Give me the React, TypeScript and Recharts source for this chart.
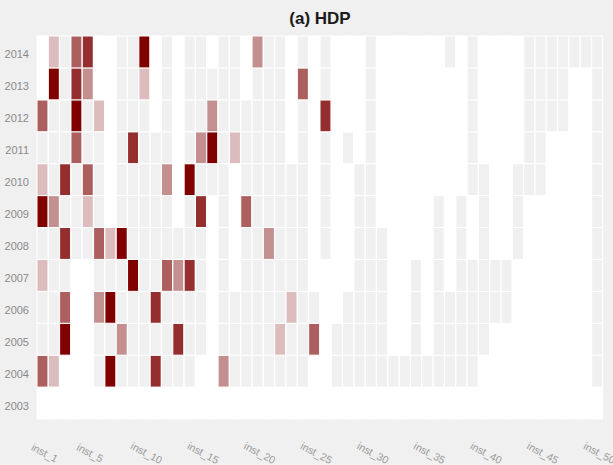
import React from 'react';
import { BarChart, Bar, XAxis, YAxis, Cell } from 'recharts';

const _ = null;

const years = [2003, 2004, 2005, 2006, 2007, 2008, 2009, 2010, 2011, 2012, 2013, 2014];
const instances = Array.from({ length: 50 }, (__, i) => `inst_${i + 1}`);
const xTickLabels = ['inst_1', 'inst_5', 'inst_10', 'inst_15', 'inst_20', 'inst_25', 'inst_30', 'inst_35', 'inst_40', 'inst_45', 'inst_50'];

// level per instance: null = no run, 0 = ran, 1..5 = share of wins (light -> dark)
const y2014 = [_, 1, 0, 3, 4, _, _, 0, 0, 5, _, 0, _, 0, 0, _, 0, 0, _, 2, 0, 0, _, 0, _, 0, _, _, _, 0, _, _, _, _, _, _, 0, _, 0, _, _, _, _, 0, 0, 0, 0, 0, 0, 0];
const y2013 = [_, 5, 0, 4, 2, _, _, 0, 0, 1, _, 0, _, 0, 0, 0, 0, 0, _, 0, 0, 0, _, 3, _, 0, _, _, _, 0, _, _, _, _, _, _, _, _, 0, _, _, _, _, 0, 0, 0, 0, _, _, 0];
const y2012 = [3, 0, 0, 5, 0, 1, _, 0, 0, 0, _, 0, _, 0, 0, 2, 0, 0, 0, 0, 0, 0, _, 0, _, 4, _, _, _, 0, _, _, _, _, _, _, _, _, 0, _, _, _, _, 0, 0, 0, 0, _, _, 0];
const y2011 = [0, 0, 0, 3, 0, 0, _, 0, 4, 0, 0, 0, _, 0, 2, 5, 0, 1, 0, 0, 0, 0, _, 0, _, 0, _, 0, _, 0, _, _, _, _, _, _, _, _, 0, _, _, _, _, 0, 0, _, _, _, _, 0];
const y2010 = [1, 0, 4, 0, 3, 0, _, 0, 0, 0, 0, 2, _, 5, 0, 0, 0, _, 0, 0, 0, 0, 0, 0, _, 0, _, _, 0, 0, _, _, _, _, _, _, _, _, 0, 0, _, _, 0, 0, 0, _, _, _, _, 0];
const y2009 = [5, 2, 0, 0, 1, 0, _, 0, 0, 0, 0, 0, _, 0, 4, _, 0, _, 3, 0, 0, 0, 0, 0, _, 0, _, _, 0, 0, _, _, _, _, _, 0, _, 0, _, 0, _, _, 0, _, _, _, _, _, _, 0];
const y2008 = [0, 0, 4, 0, 0, 3, 1, 5, 0, 0, 0, 0, 0, 0, 0, _, 0, _, 0, 0, 2, 0, 0, 0, _, 0, _, _, 0, 0, 0, _, _, _, _, 0, _, 0, _, 0, _, _, 0, _, _, _, _, _, _, 0];
const y2007 = [1, 0, 0, _, _, 0, 0, 0, 5, 0, 0, 3, 2, 4, 0, _, 0, _, 0, 0, 0, 0, 0, 0, _, _, _, _, 0, 0, 0, _, _, 0, _, 0, _, 0, 0, 0, 0, 0, _, _, _, _, _, _, _, 0];
const y2006 = [0, 0, 3, _, _, 2, 5, 0, 0, 0, 4, 0, 0, 0, 0, _, 0, 0, 0, 0, 0, 0, 1, 0, 0, _, _, 0, 0, 0, 0, _, _, 0, _, 0, 0, 0, 0, 0, 0, 0, _, _, _, _, _, _, _, 0];
const y2005 = [0, 0, 5, _, _, 0, 0, 2, 0, 0, 0, 0, 4, 0, 0, _, 0, 0, 0, 0, 0, 1, 0, 0, 3, _, 0, 0, 0, 0, 0, _, _, 0, _, 0, 0, 0, 0, 0, _, _, _, _, _, _, _, _, _, 0];
const y2004 = [3, 1, _, _, _, 0, 5, 0, 0, 0, 4, 0, 0, 0, _, _, 2, 0, 0, 0, 0, 0, 0, 0, _, _, 0, 0, 0, 0, 0, 0, 0, 0, 0, 0, 0, 0, 0, _, _, _, _, _, _, _, _, _, _, 0];
const y2003 = [_, _, _, _, _, _, _, _, _, _, _, _, _, _, _, _, _, _, _, _, _, _, _, _, _, _, _, _, _, _, _, _, _, _, _, _, _, _, _, _, _, _, _, _, _, _, _, _, _, _];

const levels: Record<number, (number | null)[]> = {
  2003: y2003, 2004: y2004, 2005: y2005, 2006: y2006, 2007: y2007, 2008: y2008,
  2009: y2009, 2010: y2010, 2011: y2011, 2012: y2012, 2013: y2013, 2014: y2014,
};

const palette = ['#f0f0f0', '#dcbcbc', '#c48f8f', '#ad5f5f', '#952e2e', '#800000'];
const colorFor = (v: number | null) => (v === null ? '#ffffff' : palette[v]);

// every cell has height 1 so the stack fills one row per year
const rows = instances.map((name) => {
  const row: Record<string, string | number> = { name };
  years.forEach((yr) => { row[`y${yr}`] = 1; });
  return row;
});

const font = '"Liberation Sans", Arial, sans-serif';

const XTick = (props: any) => {
  const { x, y, payload } = props;
  if (!xTickLabels.includes(payload.value)) return null;
  return (
    <g transform={`translate(${x + 2},${y + 26})`}>
      <text transform="rotate(28)" textAnchor="middle" dy="0.35em" fill="#9a9a9a" fontSize={10.5} fontFamily={font}>
        {payload.value}
      </text>
    </g>
  );
};

const YTick = (props: any) => {
  const { x, y, payload } = props;
  return (
    <text x={x} y={y + 6.5} textAnchor="end" fill="#8a8a8a" fontSize={11} fontFamily={font}>
      {2003 + Math.floor(payload.value)}
    </text>
  );
};

export default function App() {
  return (
    <div style={{ position: 'fixed', left: 0, top: 0, width: 613, height: 465, background: '#f0f0f0' }}>
      <div style={{ position: 'absolute', left: 37, top: 9, width: 566, textAlign: 'center', fontFamily: font, fontWeight: 'bold', fontSize: 17, lineHeight: '20px', color: '#1a1a1a' }}>
        (a) HDP
      </div>
      <BarChart width={613} height={465} data={rows} margin={{ top: 36, right: 10, bottom: 0, left: 0 }} barCategoryGap={0}>
        <XAxis dataKey="name" height={46} interval={0} axisLine={false} tickLine={false} tick={<XTick />} />
        <YAxis
          type="number"
          domain={[0, 12]}
          ticks={[0.5, 1.5, 2.5, 3.5, 4.5, 5.5, 6.5, 7.5, 8.5, 9.5, 10.5, 11.5]}
          width={37}
          axisLine={false}
          tickLine={false}
          tick={<YTick />}
        />
        {years.map((yr) => (
          <Bar key={yr} dataKey={`y${yr}`} stackId="grid" stroke="#ffffff" strokeWidth={1} isAnimationActive={false}>
            {levels[yr].map((v, i) => (
              <Cell key={i} fill={colorFor(v)} />
            ))}
          </Bar>
        ))}
      </BarChart>
    </div>
  );
}
